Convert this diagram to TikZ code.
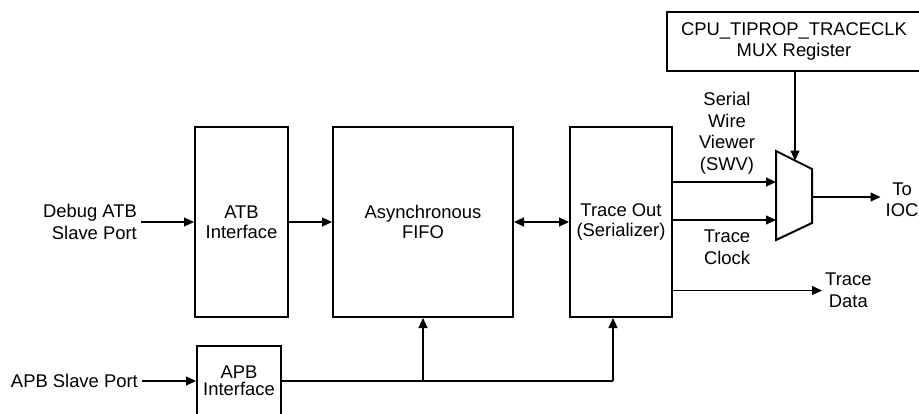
\documentclass[tikz,border=0pt]{standalone}
\usepackage{fontspec}
\setmainfont{Liberation Sans}
\usetikzlibrary{arrows.meta,calc}
\begin{document}
\begin{tikzpicture}[x=1pt,y=-1pt,
  txt/.style={font=\fontsize{18.4pt}{21.5pt}\selectfont, align=center, inner sep=0pt},
  blk/.style={draw, line width=2pt, font=\fontsize{18.4pt}{20pt}\selectfont, align=center, inner sep=0pt},
  arr/.style={line width=1.1pt, -{Triangle[length=10pt,width=9pt]}},
  darr/.style={line width=1.1pt, {Triangle[length=10pt,width=9pt]}-{Triangle[length=10pt,width=9pt]}},
  ln/.style={line width=1.1pt}]
\useasboundingbox (0,0) rectangle (919,413);

% blocks
\node[blk, minimum width=93pt, minimum height=190pt] (atb) at (241.5,222) {ATB\\Interface};
\node[blk, minimum width=180pt, minimum height=190pt] (fifo) at (423,222) {Asynchronous\\FIFO};
\node[blk, minimum width=102pt, minimum height=190pt] (tro) at (621,222) {Trace Out\\(Serializer)};
\node[blk, minimum width=84pt, minimum height=70pt, font=\fontsize{18.4pt}{17pt}\selectfont] (apb) at (239,381) {APB\\Interface};
\node[blk, minimum width=254pt, minimum height=59pt, font=\fontsize{18.4pt}{21pt}\selectfont] (reg) at (794,41.5) {CPU\_TIPROP\_TRACECLK\\MUX Register};

% mux
\draw[line width=2pt, line join=miter] (776,151) -- (812,169) -- (812,223) -- (776,240) -- cycle;
\coordinate (muxin1) at (776,182);
\coordinate (muxin2) at (776,220);
\coordinate (muxout) at (812,197);
\coordinate (muxtop) at (795,160.5);

% labels
\node[txt, anchor=east] (dbg) at (137,222) {\hfill Debug ATB\\\hfill Slave Port};
\node[txt, anchor=east] (apbport) at (138,381) {APB Slave Port};
\node[txt] (swv) at (727,133) {Serial\\Wire\\Viewer\\(SWV)};
\node[txt] (tclk) at (727,247.5) {Trace\\Clock};
\node[txt, anchor=west] (tdata) at (825,290.5) {Trace\\Data};
\node[txt, anchor=west] (ioc) at (885.5,200) {To\\IOC};

% connectors
\draw[arr] ([xshift=4pt]dbg.east) -- (atb.west |- dbg.east);
\draw[arr] (atb.east) -- (fifo.west);
\draw[darr] (fifo.east) -- (tro.west);
\draw[arr] ([xshift=4pt]apbport.east) -- (apb.west |- apbport.east);
\coordinate (jf) at (fifo.south |- apb.east);
\coordinate (jt) at (613,381);
\draw[ln] (apb.east) -- (jt);
\draw[arr] (jf) -- (fifo.south);
\draw[arr] (jt) -- (jt |- tro.south);
\draw[arr] (tro.east |- muxin1) -- (muxin1);
\draw[arr] (tro.east |- muxin2) -- (muxin2);
\draw[arr] (tro.east |- tdata.west) -- ([xshift=-3pt]tdata.west);
\draw[arr] (muxout) -- ([xshift=-5pt]ioc.west |- muxout);
\draw[arr] (muxtop |- reg.south) -- (muxtop);
\end{tikzpicture}
\end{document}
